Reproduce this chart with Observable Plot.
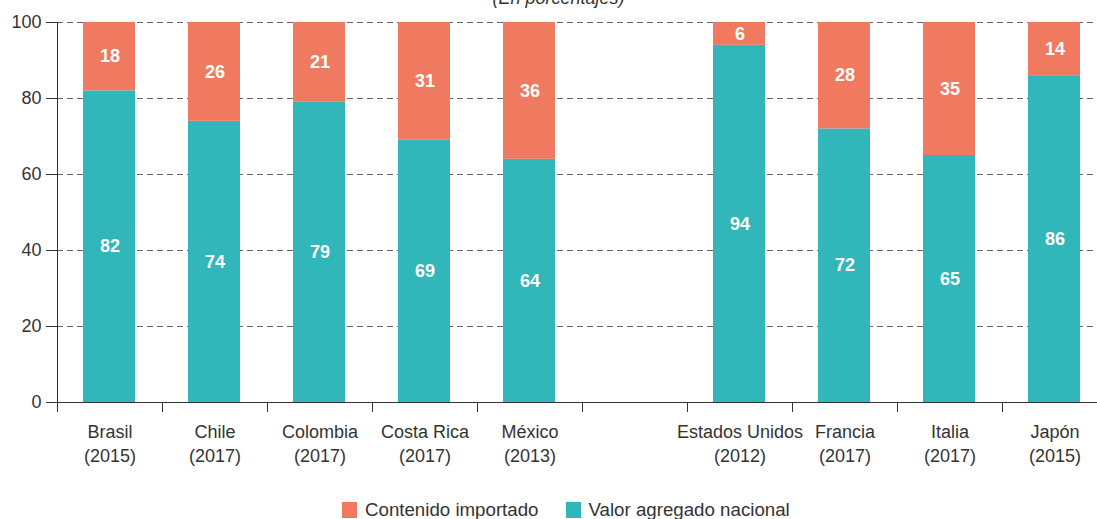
<!DOCTYPE html>
<html><head><meta charset="utf-8">
<script src="https://cdn.jsdelivr.net/npm/d3@7"></script>
<script src="https://cdn.jsdelivr.net/npm/@observablehq/plot@0.6"></script>
<style>
body{margin:0;background:#fff;font-family:"Liberation Sans",Arial,sans-serif;}
#wrap{position:relative;width:1097px;height:519px;overflow:hidden;}
#sub{position:absolute;top:-12px;left:10px;width:1097px;text-align:center;font-style:italic;font-size:18px;line-height:20px;color:#333;z-index:2;}
#chart{position:absolute;top:0;left:0;}
#legend{position:absolute;top:499px;left:342px;display:flex;align-items:center;font-size:18.7px;color:#333;}
#legend .sw{width:15px;height:16px;display:inline-block;margin-right:8px;}
#legend .it{display:flex;align-items:center;margin-right:27px;}
</style></head>
<body><div id="wrap"><div id="chart"></div><div id="sub">(En porcentajes)</div><div id="legend"></div></div>
<script>
const countries = ["Brasil","Chile","Colombia","Costa Rica","México","","Estados Unidos","Francia","Italia","Japón"];
const years = ["2015","2017","2017","2017","2013","","2012","2017","2017","2015"];
const importado = [18,26,21,31,36,null,6,28,35,14];
const nacional = [82,74,79,69,64,null,94,72,65,86];
const series = ["Contenido importado","Valor agregado nacional"];
const colors = ["#EF7A5F","#31B6B9"];
const yTicks = [0,20,40,60,80,100];

const rows = [];
countries.forEach((c, i) => {
  if (nacional[i] == null) return;
  rows.push({i, serie: series[1], y1: 0, y2: nacional[i], v: nacional[i]});
  rows.push({i, serie: series[0], y1: nacional[i], y2: nacional[i] + importado[i], v: importado[i]});
});
const boundaries = d3.range(0, countries.length + 1);
const centers = countries.map((c, i) => i + 0.5).filter((d, i) => countries[i] !== "");

const chart = Plot.plot({
  width: 1097, height: 482,
  marginLeft: 57, marginRight: 0, marginTop: 22, marginBottom: 80,
  style: {fontFamily: "Liberation Sans, Arial, sans-serif", fontSize: "18px", color: "#333", background: "#fff"},
  x: {domain: [0, countries.length], range: [57, 1107]},
  y: {domain: [0, 100]},
  color: {domain: series, range: colors},
  marks: [
    Plot.gridY(yTicks.filter(d => d > 0), {stroke: "#666", strokeOpacity: 1, strokeDasharray: "6,4"}),
    Plot.rectY(rows, {x1: d => d.i, x2: d => d.i + 1, y1: "y1", y2: "y2", fill: "serie", insetLeft: 26, insetRight: 27}),
    Plot.text(rows, {x: d => d.i + 0.5, y: d => (d.y1 + d.y2) / 2, text: "v", fill: "white", fontWeight: "bold", fontSize: 18}),
    Plot.axisY({ticks: yTicks, tickSize: 11, tickPadding: 5, fontSize: 18, label: null}),
    Plot.axisX({ticks: boundaries, tickSize: 10, tickFormat: () => "", label: null}),
    Plot.axisX({ticks: centers, tickSize: 0, tickPadding: 19, fontSize: 18, lineHeight: 1.3, label: null,
      tickFormat: d => countries[Math.floor(d)] + "\n(" + years[Math.floor(d)] + ")"}),
    Plot.ruleY([0], {stroke: "#333"}),
    Plot.ruleX([0], {stroke: "#333", y1: 0, y2: 100})
  ]
});
document.getElementById("chart").appendChild(chart);

const lg = document.getElementById("legend");
series.forEach((s, k) => {
  const it = document.createElement("span"); it.className = "it";
  const sw = document.createElement("span"); sw.className = "sw"; sw.style.background = colors[k];
  it.appendChild(sw); it.appendChild(document.createTextNode(s)); lg.appendChild(it);
});
</script></body></html>
